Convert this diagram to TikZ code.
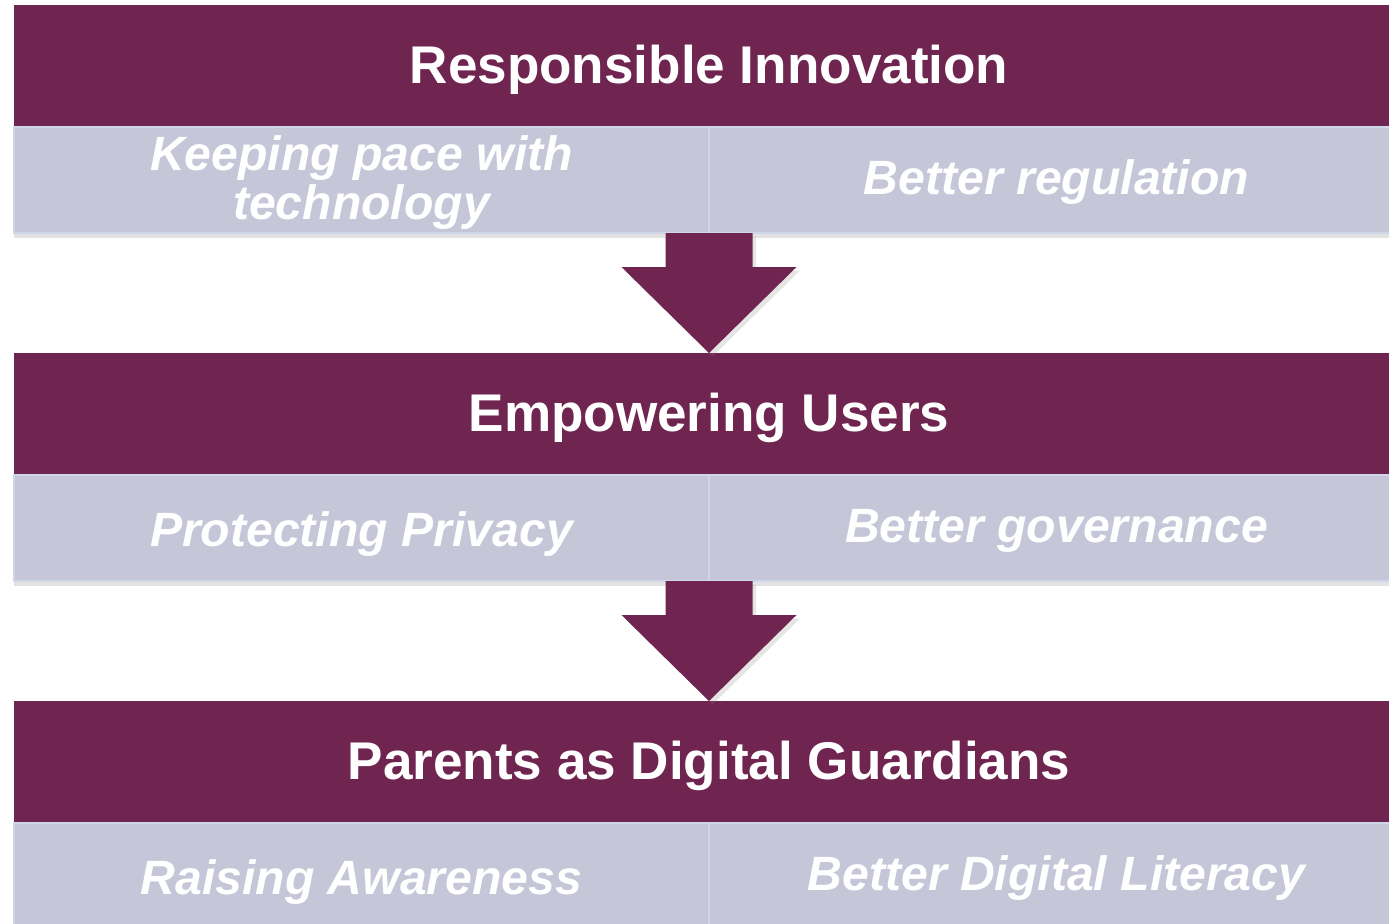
\documentclass[tikz,border=0pt]{standalone}
\usepackage{fontspec}
\setmainfont{Liberation Sans}
\usepackage{xcolor}
\usetikzlibrary{positioning,calc,shadows}

\definecolor{plum}{RGB}{111,37,80}
\definecolor{lilac}{RGB}{197,198,216}
\definecolor{lilacline}{RGB}{208,214,234}

\begin{document}
\begin{tikzpicture}[
titlebar/.style={rectangle, fill=plum, text=white, inner sep=0pt, outer sep=0pt, minimum width=139mm, minimum height=12.2mm, text height=11.3pt, text depth=1.4pt, font=\bfseries\fontsize{15.1}{18}\selectfont},
subbox/.style={rectangle, fill=lilac, draw=lilacline, line width=0.8pt, text=white, inner sep=0pt, outer sep=0pt, align=center, minimum width=69.5mm, minimum height=10.6mm, font=\bfseries\itshape\fontsize{13.7}{13.7}\selectfont, drop shadow={shadow xshift=0pt, shadow yshift=-1.5pt, opacity=0.22}},
leftline/.style={subbox, text height=11.7pt, text depth=1.1pt},
rightline/.style={subbox, text height=9.6pt, text depth=1.1pt},
blockarrow/.style={fill=plum, drop shadow={shadow xshift=1pt, shadow yshift=-1pt, opacity=0.2}},
]
\useasboundingbox[fill=white] (0,0) rectangle (13.89,-9.23);

%Nodes
\node[titlebar, anchor=north west](Responsible Innovation) at (0.14,-0.05){Responsible Innovation};
\node[subbox, text depth=1.4pt](Keeping pace)[below right=0cm and 0cm of Responsible Innovation.south west]{Keeping pace with\\technology};
\node[rightline](Better regulation)[right=0cm of Keeping pace]{Better regulation};

\node[titlebar](Empowering Users)[below right=12mm and 0cm of Keeping pace.south west]{Empowering Users};
\node[leftline](Protecting Privacy)[below right=0cm and 0cm of Empowering Users.south west]{Protecting Privacy};
\node[rightline](Better governance)[right=0cm of Protecting Privacy]{Better governance};

\node[titlebar](Parents)[below right=12mm and 0cm of Protecting Privacy.south west]{Parents as Digital Guardians};
\node[leftline](Raising Awareness)[below right=0cm and 0cm of Parents.south west]{Raising Awareness};
\node[rightline](Digital Literacy)[right=0cm of Raising Awareness]{Better Digital Literacy};

%Arrows
\fill[blockarrow] ($(Keeping pace.south east)+(-0.435,0)$) -- ++(0,-0.34) -- ++(-0.44,0) -- (Empowering Users.north) -- ++(0.875,0.86) -- ++(-0.44,0) -- ++(0,0.34) -- cycle;
\fill[blockarrow] ($(Protecting Privacy.south east)+(-0.435,0)$) -- ++(0,-0.34) -- ++(-0.44,0) -- (Parents.north) -- ++(0.875,0.86) -- ++(-0.44,0) -- ++(0,0.34) -- cycle;
\end{tikzpicture}
\end{document}
